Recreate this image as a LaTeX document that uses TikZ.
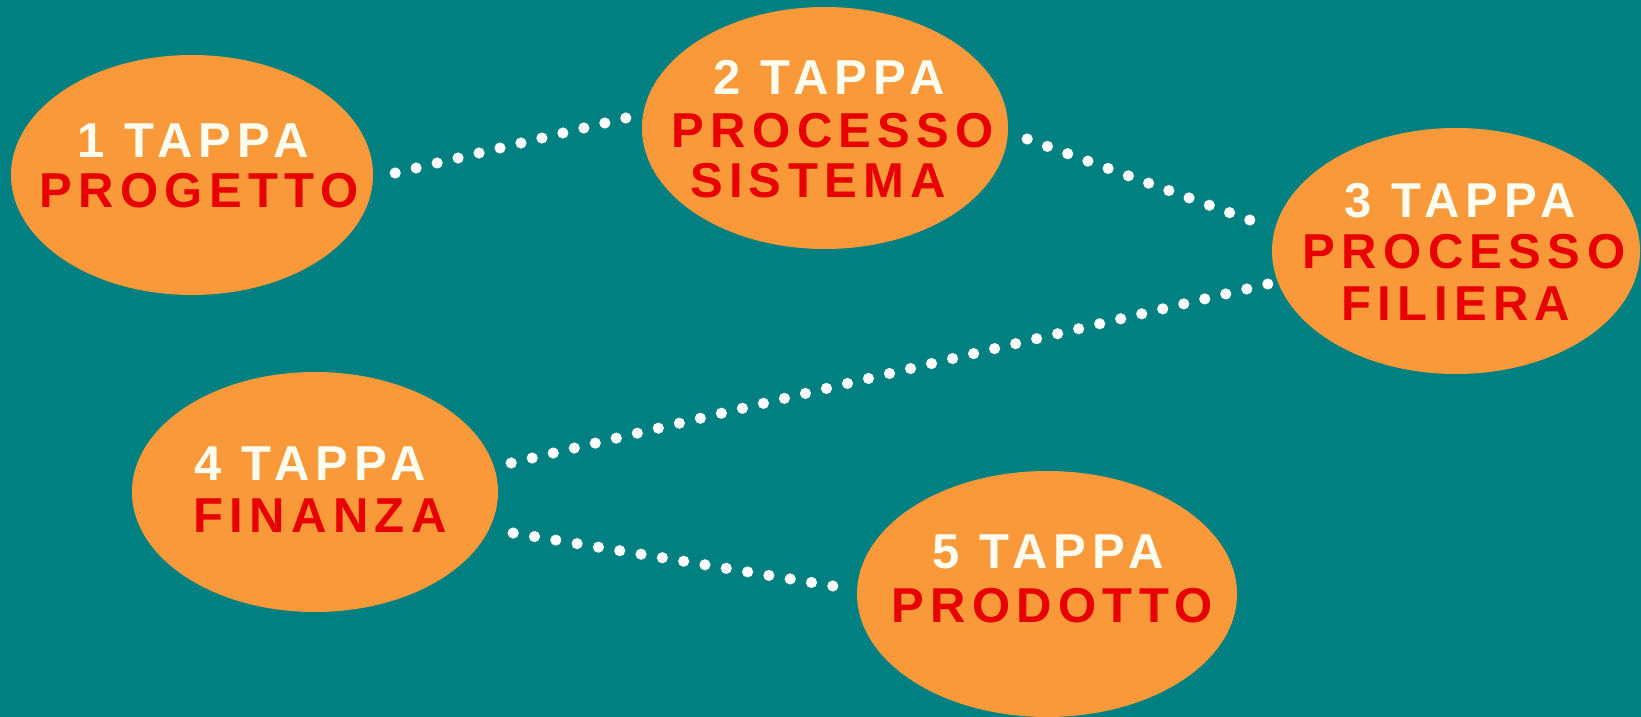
\documentclass[tikz,border=0pt]{standalone}
\usepackage{fontspec}
\newfontfamily\tapfont{Liberation Sans}[LetterSpace=13]
\usetikzlibrary{shapes.geometric,calc}
\definecolor{bgteal}{RGB}{0,128,128}
\definecolor{blob}{RGB}{249,153,58}
\definecolor{redtxt}{RGB}{232,0,0}
\definecolor{whtxt}{RGB}{255,253,240}
\tikzset{
  stage/.style={ellipse,fill=blob,draw=none,inner sep=0pt},
  lbl/.style={anchor=base,inner sep=0pt,font=\tapfont\bfseries\fontsize{49}{51}\selectfont},
  wlbl/.style={lbl,text=whtxt},
  rlbl/.style={lbl,text=redtxt},
  dotfill/.style={fill=white,draw=none},
}
% dotted connector: start, end, number of dots
\newcommand{\dotrow}[3]{%
  \foreach \k in {0,...,#3}{\fill[dotfill] ($#1!{\k/#3}!#2$) circle (5.6);}}
\begin{document}
\begin{tikzpicture}[x=1pt,y=-1pt]
\fill[bgteal] (0,0) rectangle (1641,717);
\useasboundingbox (0,0) rectangle (1641,717);

\node[stage,minimum width=362pt,minimum height=240pt] (n1) at (192,175) {};
\node[stage,minimum width=366pt,minimum height=242pt] (n2) at (825,128) {};
\node[stage,minimum width=368pt,minimum height=246pt] (n3) at (1456,251) {};
\node[stage,minimum width=366pt,minimum height=240pt] (n4) at (315,492) {};
\node[stage,minimum width=380pt,minimum height=246pt] (n5) at (1047,594) {};

\node[wlbl] (t1a) at (193,157) {1 TAPPA};
\node[rlbl] (t1b) at (199,207) {PROGETTO};
\node[wlbl] (t2a) at (829,95) {2 TAPPA};
\node[rlbl] (t2b) at (833,147) {PROCESSO};
\node[rlbl] (t2c) at (818,197) {SISTEMA};
\node[wlbl] (t3a) at (1460,217) {3 TAPPA};
\node[rlbl] (t3b) at (1464,268) {PROCESSO};
\node[rlbl] (t3c) at (1456,320) {FILIERA};
\node[wlbl] (t4a) at (310,480) {4 TAPPA};
\node[rlbl] (t4b) at (320,532) {FINANZA};
\node[wlbl] (t5a) at (1048,568) {5 TAPPA};
\node[rlbl] (t5b) at (1052,622) {PRODOTTO};

\dotrow{($(n1.east)+(22,-2)$)}{($(n2.west)+(-16,-10)$)}{11}
\dotrow{($(n2.east)+(19,11)$)}{($(n3.west)+(-22,-31)$)}{11}
\dotrow{($(n3.west)+(-4,33)$)}{($(n4.east)+(13,-29)$)}{36}
\dotrow{($(n4.east)+(15,41)$)}{($(n5.west)+(-24,-8)$)}{15}
\end{tikzpicture}
\end{document}
